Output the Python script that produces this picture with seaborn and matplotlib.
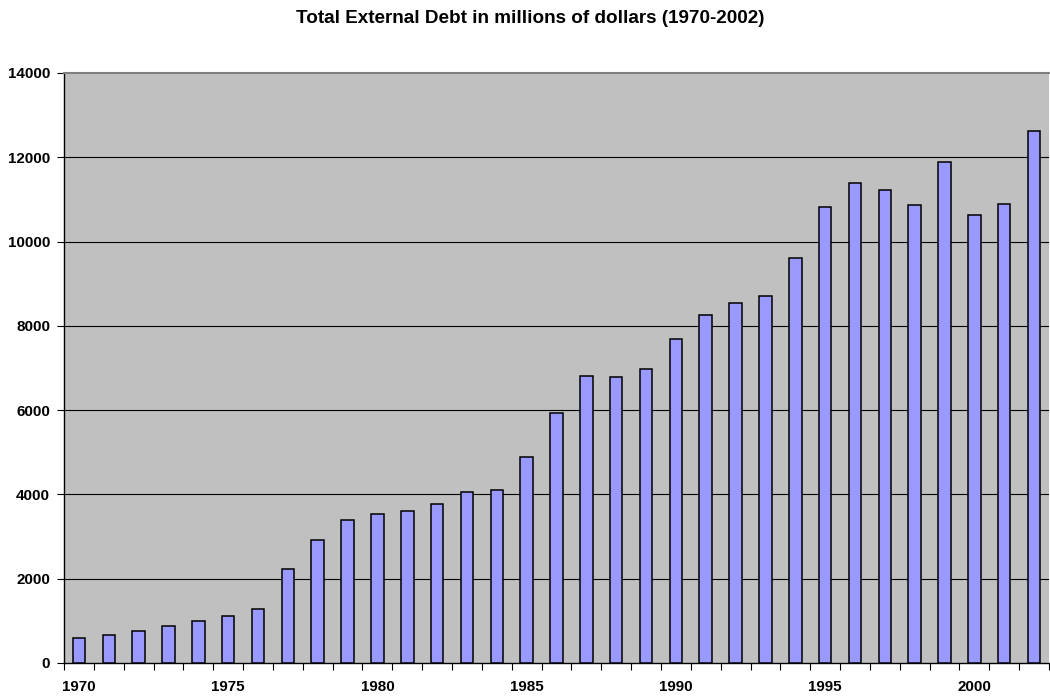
import matplotlib
matplotlib.use("Agg")
import matplotlib.pyplot as plt
import seaborn as sns
import pandas as pd
import numpy as np
from matplotlib.ticker import FixedLocator

years = list(range(1970, 2003))
debt = [600, 675, 765, 880, 1000, 1105, 1280, 2230, 2930, 3400, 3525, 3605, 3770, 4055, 4095,
        4880, 5935, 6815, 6795, 6970, 7690, 8255, 8545, 8705, 9615,
        10820, 11385, 11230, 10860, 11885, 10630, 10885, 12630]
yticks = [0, 2000, 4000, 6000, 8000, 10000, 12000, 14000]
title = "Total External Debt in millions of dollars (1970-2002)"

sns.set_theme(style="white")
plt.rcParams['font.family'] = ['Liberation Sans', 'DejaVu Sans']
plt.rcParams['text.color'] = 'black'
plt.rcParams['xtick.color'] = 'black'
plt.rcParams['ytick.color'] = 'black'
plt.rcParams['xtick.labelcolor'] = 'black'
plt.rcParams['ytick.labelcolor'] = 'black'

df = pd.DataFrame({"year": [str(y) for y in years], "debt": debt})

fig = plt.figure(figsize=(10.5, 6.96), dpi=100)
ax = fig.add_axes([64/1050, 1 - 663/696, 985/1050, 590/696])
ax.set_facecolor("#C0C0C0")

sns.barplot(data=df, x="year", y="debt", color="#9999FF", saturation=1,
            width=0.42, edgecolor="black", linewidth=1.1, ax=ax, zorder=3)

ax.set_ylim(0, 14000)
ax.set_xlim(-0.5, len(years) - 0.5)
ax.set_yticks(yticks)
ax.set_yticklabels([str(v) for v in yticks], fontsize=10.9, fontweight="bold", color="black")
for v in yticks[1:-1]:
    ax.axhline(v, color="black", linewidth=0.8, zorder=1)

lab_pos = [i for i, y in enumerate(years) if y % 5 == 0]
ax.set_xticks(lab_pos)
ax.set_xticklabels([str(years[i]) for i in lab_pos], fontsize=10.9, fontweight="bold", color="black")
ax.xaxis.set_minor_locator(FixedLocator(np.arange(-0.5, len(years), 1.0)))
ax.tick_params(axis="x", which="major", length=0, pad=12)
ax.tick_params(axis="x", which="minor", length=5, width=0.8, color="black", direction="out", bottom=True)
ax.tick_params(axis="y", which="major", length=5, width=0.8, color="black", direction="out", left=True, pad=5)

ax.set_xlabel("")
ax.set_ylabel("")
for s in ["left", "bottom"]:
    ax.spines[s].set_color("black")
    ax.spines[s].set_linewidth(1.0)
ax.spines["top"].set_color("#808080")
ax.spines["top"].set_linewidth(1.5)
ax.spines["right"].set_visible(False)

fig.text(0.505, 1 - 22.7/696, title, ha="center", va="baseline", fontsize=13.6,
         fontweight="bold", color="black")

fig.savefig("out.png", dpi=100)
